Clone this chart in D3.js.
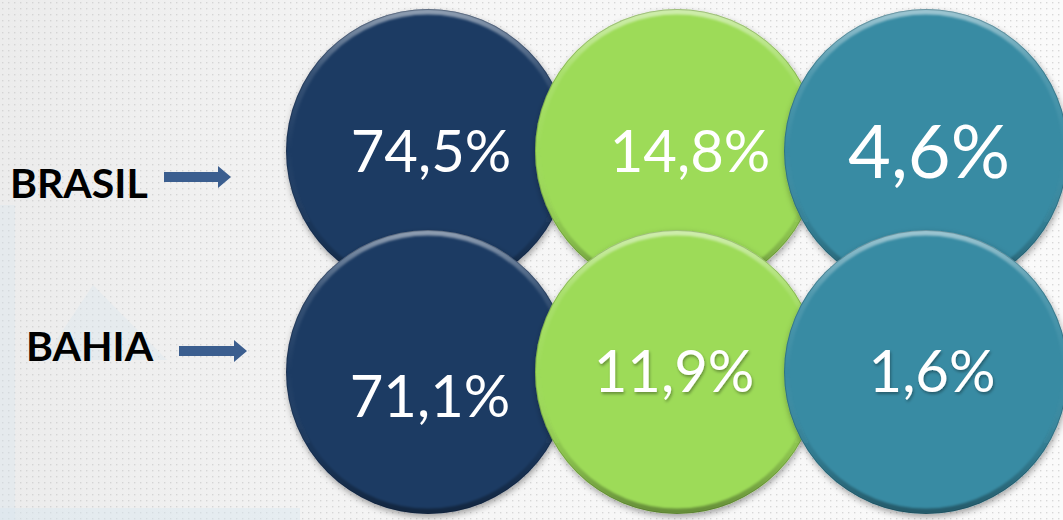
<!DOCTYPE html>
<html>
<head>
<meta charset="utf-8">
<script src="https://cdn.jsdelivr.net/npm/d3@7"></script>
<style>
  html, body { margin: 0; padding: 0; background: #f2f2f2; }
  svg { display: block; }
</style>
</head>
<body>
<script>
// data
const regions = ["BRASIL", "BAHIA"];
const groups = ["g1", "g2", "g3"];
const brasilValues = [74.5, 14.8, 4.6];
const bahiaValues = [71.1, 11.9, 1.6];
const groupColors = ["#1f3b64", "#9ddb58", "#388ba3"];

// label nudges inside each circle (layout only)
const labelLayout = [
  [{ dx: 3, dy: 21, size: 58 }, { dx: 13, dy: 21, size: 58 }, { dx: 3, dy: 27, size: 74 }],
  [{ dx: 2, dy: 45, size: 58 }, { dx: -3, dy: 20, size: 58 }, { dx: 6, dy: 20, size: 58 }]
];
const rowLabelLayout = [
  { tx: 10, ty: 198, ax: 164, ay: 177, len: 67 },
  { tx: 26, ty: 361, ax: 179, ay: 351, len: 68 }
];

const W = 1063, H = 520, R = 142;

const svg = d3.select("body").append("svg")
  .attr("width", W)
  .attr("height", H);

const defs = svg.append("defs");

const bg = defs.append("linearGradient").attr("id", "bg");
bg.append("stop").attr("offset", "0%").attr("stop-color", "#ececec");
bg.append("stop").attr("offset", "45%").attr("stop-color", "#f6f6f6");
bg.append("stop").attr("offset", "100%").attr("stop-color", "#fafafa");

const dots = defs.append("pattern").attr("id", "dots")
  .attr("width", 6).attr("height", 6)
  .attr("patternUnits", "userSpaceOnUse");
dots.append("rect").attr("x", 2).attr("y", 2).attr("width", 1.4).attr("height", 1.4)
  .attr("fill", "#c9c9c9");

const rim = defs.append("linearGradient").attr("id", "rim")
  .attr("x1", 0).attr("y1", 0).attr("x2", 0).attr("y2", 1);
rim.append("stop").attr("offset", "0%").attr("stop-color", "#fff").attr("stop-opacity", 0.5);
rim.append("stop").attr("offset", "22%").attr("stop-color", "#fff").attr("stop-opacity", 0.12);
rim.append("stop").attr("offset", "50%").attr("stop-color", "#fff").attr("stop-opacity", 0);
rim.append("stop").attr("offset", "80%").attr("stop-color", "#000").attr("stop-opacity", 0.12);
rim.append("stop").attr("offset", "100%").attr("stop-color", "#000").attr("stop-opacity", 0.35);

const shadow = defs.append("filter").attr("id", "shadow")
  .attr("x", "-20%").attr("y", "-20%").attr("width", "140%").attr("height", "140%");
shadow.append("feDropShadow")
  .attr("dx", 1).attr("dy", 3).attr("stdDeviation", 3)
  .attr("flood-color", "#000").attr("flood-opacity", 0.35);

const soft = defs.append("filter").attr("id", "soft");
soft.append("feGaussianBlur").attr("stdDeviation", 1.3);

const txtShadow = defs.append("filter").attr("id", "txtShadow")
  .attr("x", "-10%").attr("y", "-20%").attr("width", "120%").attr("height", "140%");
txtShadow.append("feDropShadow")
  .attr("dx", 1).attr("dy", 2).attr("stdDeviation", 1.5)
  .attr("flood-color", "#000").attr("flood-opacity", 0.35);

// background
svg.append("rect").attr("width", W).attr("height", H).attr("fill", "url(#bg)");
svg.append("rect").attr("width", W).attr("height", H).attr("fill", "url(#dots)").attr("opacity", 0.7);
svg.append("rect").attr("x", 0).attr("y", 205).attr("width", 15).attr("height", H - 205)
  .attr("fill", "#d4e3ee").attr("opacity", 0.3);
svg.append("path").attr("d", "M43,360 L93,285 L167,360 Z")
  .attr("fill", "#d8e5ee").attr("opacity", 0.35);
svg.append("rect").attr("x", 0).attr("y", 508).attr("width", 300).attr("height", 12)
  .attr("fill", "#d6e6f0").attr("opacity", 0.45);

// scales
const x = d3.scalePoint().domain(groups).range([428, 926]);
const y = d3.scalePoint().domain(regions).range([151, 372]);
const color = d3.scaleOrdinal().domain(groups).range(groupColors);
const fmt = v => d3.format(".1f")(v).replace(".", ",") + "%";

const cells = [];
regions.forEach((reg, ri) => {
  const vals = ri === 0 ? brasilValues : bahiaValues;
  groups.forEach((g, gi) => cells.push({ reg, ri, g, gi, value: vals[gi] }));
});

const cell = svg.selectAll(".cell")
  .data(cells)
  .join("g")
  .attr("class", "cell")
  .attr("transform", d => `translate(${x(d.g)},${y(d.reg)})`);

cell.append("clipPath")
  .attr("id", (d, i) => "clip" + i)
  .append("circle").attr("r", R);

cell.append("circle")
  .attr("r", R)
  .attr("fill", d => color(d.g))
  .attr("filter", "url(#shadow)");

cell.append("g")
  .attr("clip-path", (d, i) => `url(#clip${i})`)
  .append("circle")
  .attr("r", R - 2.5)
  .attr("fill", "none")
  .attr("stroke", "url(#rim)")
  .attr("stroke-width", 6)
  .attr("filter", "url(#soft)");

cell.append("circle")
  .attr("r", R - 0.5)
  .attr("fill", "none")
  .attr("stroke", "#000")
  .attr("stroke-opacity", 0.18)
  .attr("stroke-width", 1);

cell.append("text")
  .text(d => fmt(d.value))
  .attr("x", d => labelLayout[d.ri][d.gi].dx)
  .attr("y", d => labelLayout[d.ri][d.gi].dy)
  .attr("text-anchor", "middle")
  .attr("fill", "#fff")
  .attr("font-family", "Lato, 'Open Sans', sans-serif")
  .attr("font-size", d => labelLayout[d.ri][d.gi].size)
  .attr("filter", d => d.ri === 1 && d.gi > 0 ? "url(#txtShadow)" : null);

// row labels with arrows
const rows = svg.selectAll(".row")
  .data(regions)
  .join("g")
  .attr("class", "row");

rows.append("text")
  .text(d => d)
  .attr("x", (d, i) => rowLabelLayout[i].tx)
  .attr("y", (d, i) => rowLabelLayout[i].ty)
  .attr("font-family", "Lato, 'Open Sans', sans-serif")
  .attr("font-weight", "bold")
  .attr("font-size", 41)
  .attr("fill", "#000");

rows.append("path")
  .attr("d", (d, i) => {
    const l = rowLabelLayout[i];
    const hx = l.ax + l.len - 13;
    return `M${l.ax},${l.ay - 5} L${hx},${l.ay - 5} L${hx},${l.ay - 11} L${l.ax + l.len},${l.ay} ` +
      `L${hx},${l.ay + 11} L${hx},${l.ay + 5} L${l.ax},${l.ay + 5} Z`;
  })
  .attr("fill", "#3b5e8f");
</script>
</body>
</html>
